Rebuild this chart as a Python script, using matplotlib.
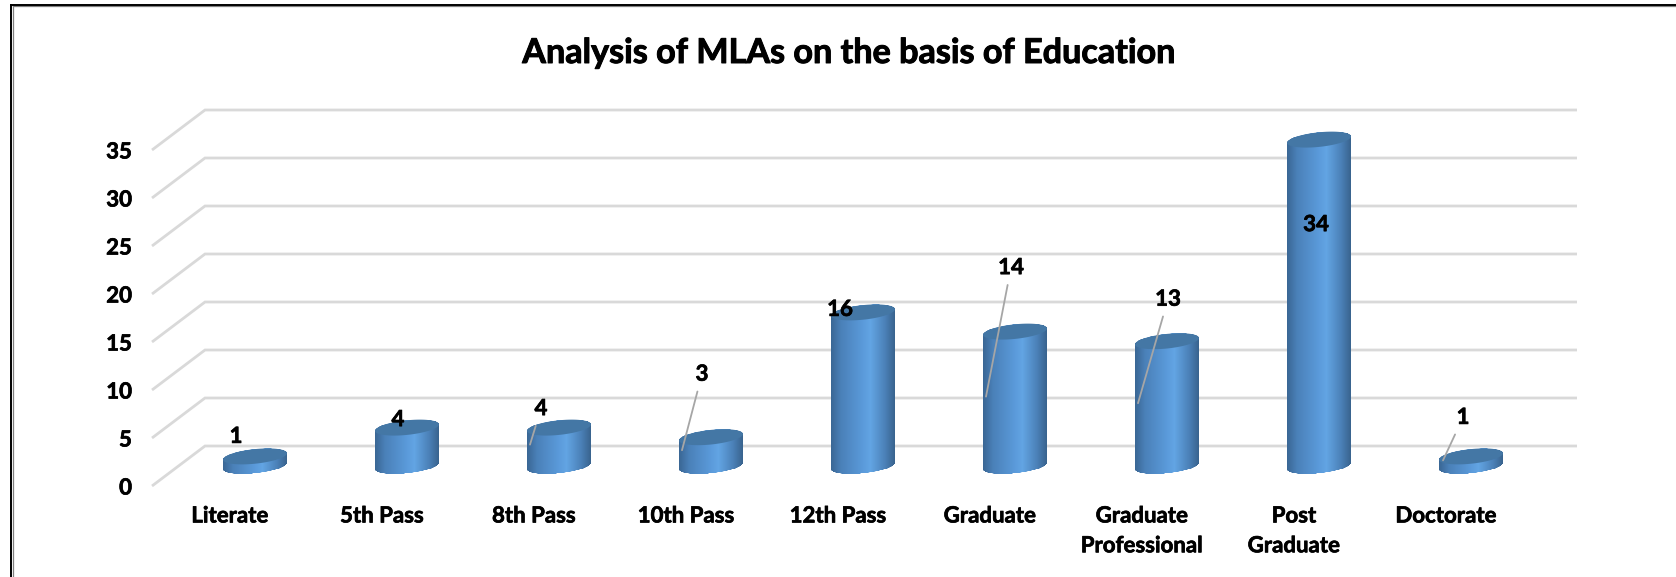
import numpy as np
import matplotlib
matplotlib.use('Agg')
import matplotlib.pyplot as plt
import matplotlib.patheffects as pe
from matplotlib.colors import LinearSegmentedColormap
from matplotlib.lines import Line2D
from matplotlib.path import Path
from matplotlib.patches import Polygon

categories = ['Literate', '5th Pass', '8th Pass', '10th Pass', '12th Pass', 'Graduate',
              'Graduate\nProfessional', 'Post\nGraduate', 'Doctorate']
values = [1, 4, 4, 3, 16, 14, 13, 34, 1]
y_ticks = [0, 5, 10, 15, 20, 25, 30, 35]

# Положение подписей и концы выносок относительно верха цилиндра, в пикселях
label_dx = [-19, -9, -18, -9, -23, -4, 1, -3, -8]
label_dy = [20, 8, 19, 63, 3, 64, 42, -85, 39]
leader_end = [None, None, (-29, -17), (-29, -13), None, (-29, -65), (-29, -62), None, (-28, -4)]

W, H = 1676, 577
X_UNIT = 152.0  # пикселей на категорию
Y_UNIT = 9.6    # пикселей на единицу значения
LEFT, RIGHT, BOTTOM, TOP = 152, 1577, 486, 100

plt.rcParams['font.family'] = ['Lato', 'DejaVu Sans']
plt.rcParams['font.weight'] = 'bold'

# Обводка, чтобы текст был плотнее
heavy = [pe.withStroke(linewidth=0.5, foreground='black')]

fig = plt.figure(figsize=(W / 100, H / 100), dpi=100, facecolor='white')
ax = fig.add_axes([LEFT / W, 1 - BOTTOM / H, (RIGHT - LEFT) / W, (BOTTOM - TOP) / H])
ax.set_xlim((LEFT - 230) / X_UNIT, (RIGHT - 230) / X_UNIT)
ax.set_ylim(0, (BOTTOM - TOP) / Y_UNIT)
for s in ax.spines.values():
    s.set_visible(False)

# Рамка
for lw, col, off in [(0.9, '#808080', 1.5), (1.4, 'black', 0)]:
    fig.add_artist(Line2D([(11 + off) / W, (11 + off) / W], [0, 1 - (4.5 + off) / H], color=col, lw=lw))
    fig.add_artist(Line2D([(11 + off) / W, 1], [1 - (4.5 + off) / H, 1 - (4.5 + off) / H], color=col, lw=lw))

fig.text(849 / W, 1 - 53 / H, 'Analysis of MLAs on the basis of Education',
         ha='center', va='center', fontsize=24.6, fontweight='bold', color='black',
         path_effects=[pe.withStroke(linewidth=0.7, foreground='black')])

# Сетка: пол и задняя стенка
x0 = ax.get_xlim()[0]
x1 = ax.get_xlim()[1]
depth_x = 53 / X_UNIT
depth_y = 40 / Y_UNIT
for v in y_ticks:
    ax.plot([x0, x0 + depth_x, x1], [v, v + depth_y, v + depth_y], color='#d9d9d9', lw=2.0,
            zorder=1, clip_on=False, solid_joinstyle='miter', solid_capstyle='butt')

ax.set_yticks(y_ticks)
ax.set_yticklabels([str(v) for v in y_ticks], fontsize=16, fontweight='bold', path_effects=heavy)
ax.set_xticks(range(len(categories)))
ax.set_xticklabels(categories, fontsize=16, fontweight='bold', linespacing=1.52, path_effects=heavy)
ax.tick_params(axis='y', length=0, pad=14.5)
ax.tick_params(axis='x', length=0, pad=14)

# Цилиндры
cmap = LinearSegmentedColormap.from_list('cyl', [(0, '#3a6795'), (0.15, '#4a80b8'), (0.5, '#5a9ada'),
                                                 (0.62, '#62a4e3'), (0.85, '#4b81b8'), (1, '#39648f')])
half_w = 32 / X_UNIT
b = 7.3 / Y_UNIT
shear = 3.2 / Y_UNIT
base_y = 20 / Y_UNIT
shift_x = 25 / X_UNIT

for i, v in enumerate(values):
    cx = i + shift_x
    top = base_y + v
    t = np.linspace(0, 2 * np.pi, 121)
    ex = half_w * np.cos(t)
    ey = b * np.sin(t) + shear * np.cos(t)

    # Боковая поверхность с градиентом
    low = t >= np.pi
    up = t <= np.pi
    body_x = np.concatenate([cx + ex[low], cx + ex[up]])
    body_y = np.concatenate([base_y + ey[low], top + ey[up]])
    xs = np.linspace(cx - half_w, cx + half_w, 65)
    ys = [base_y - 2, top + 2]
    grad = np.linspace(0, 1, 64).reshape(1, -1)
    mesh = ax.pcolormesh(xs, ys, grad, cmap=cmap, vmin=0, vmax=1, zorder=3, shading='flat')
    mesh.set_clip_path(Path(np.column_stack([body_x, body_y])), ax.transData)

    # Верхняя крышка
    ax.add_patch(Polygon(np.column_stack([cx + ex, top + ey]), closed=True, facecolor='#4477a5',
                         edgecolor='none', zorder=4))

    # Подпись значения и выноска
    end = leader_end[i]
    ex_px, ey_px = end if end else (0, 0)
    props = None
    if end:
        props = dict(arrowstyle='-', color='#a6a6a6', lw=1.3, shrinkA=3, shrinkB=0)
    ax.annotate(str(v), xy=(cx + ex_px / X_UNIT, top + ey_px / Y_UNIT),
                xytext=(label_dx[i] - ex_px, label_dy[i] - ey_px), textcoords='offset pixels',
                ha='center', va='center', fontsize=16, fontweight='bold', color='black',
                arrowprops=props, zorder=6, annotation_clip=False, path_effects=heavy)

fig.savefig('out.png', dpi=100, facecolor='white')
